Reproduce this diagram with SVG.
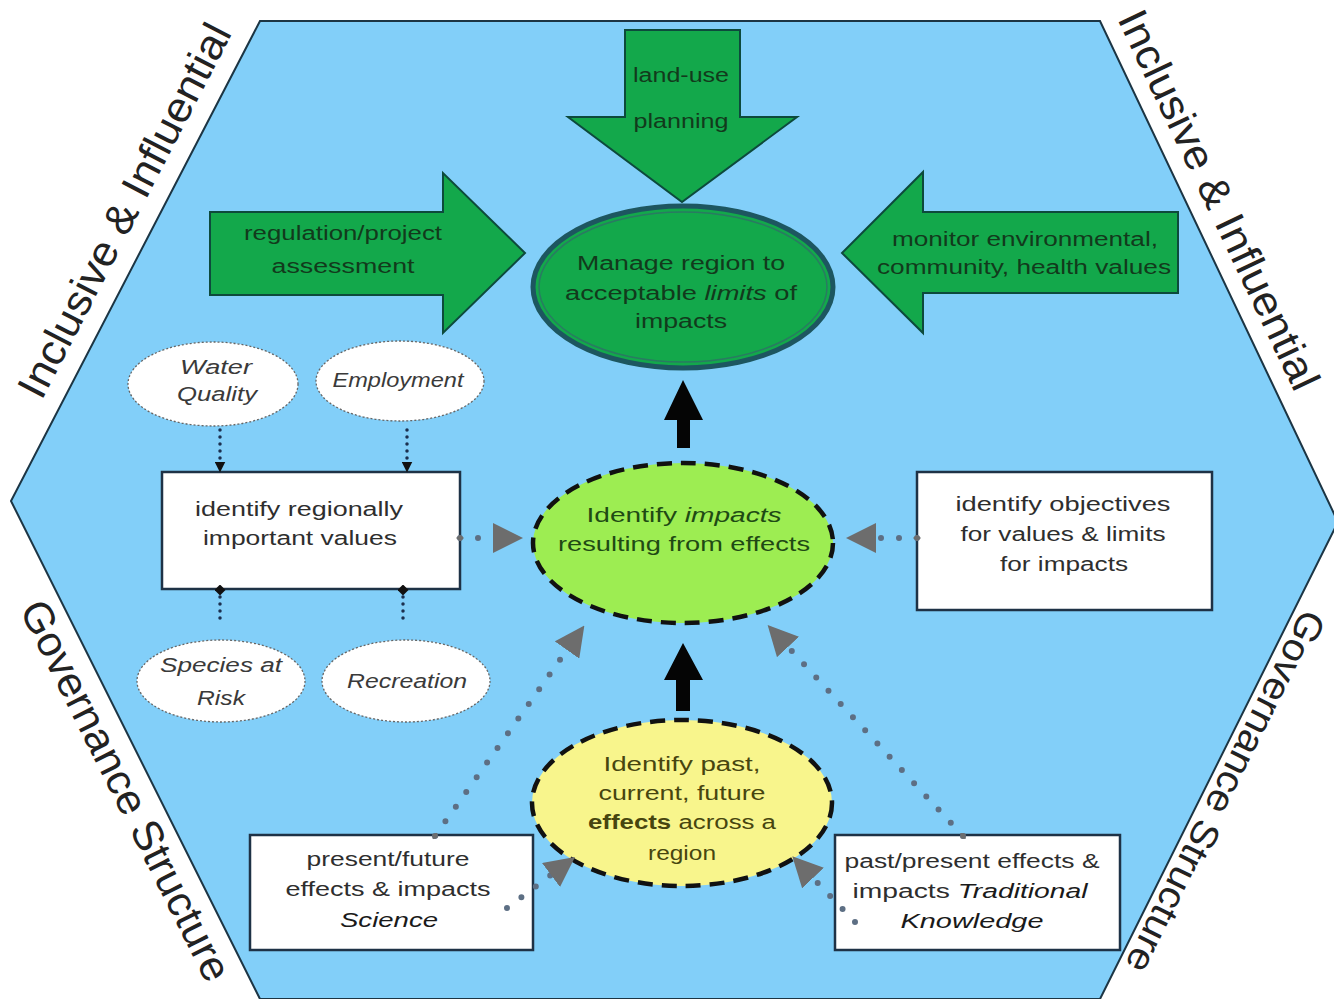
<svg xmlns="http://www.w3.org/2000/svg" width="1334" height="999" viewBox="0 0 1334 999">
<defs>
<style>
text{font-family:"Liberation Sans",Arial,sans-serif;}
.side{font-size:42px;fill:#222;}
.gtxt{font-size:20px;fill:#123a1c;text-anchor:middle;}
.btxt{font-size:20px;fill:#2e2e2e;text-anchor:middle;}
.itxt{font-size:20px;fill:#3a3a3a;text-anchor:middle;font-style:italic;}
.garrow{fill:#13a84b;stroke:#0d4a3c;stroke-width:2;}
.box{fill:#fff;stroke:#1e3246;stroke-width:2.5;}
.small{fill:#fff;stroke:#666;stroke-width:1.3;stroke-dasharray:2 2;}
.dash{stroke:#111;stroke-width:4.5;stroke-dasharray:15 9;}
.gdot{fill:none;stroke:#5d6f84;stroke-width:6;stroke-linecap:round;stroke-dasharray:0 18;}
.ndot{fill:none;stroke:#1b2f4f;stroke-width:3.5;stroke-linecap:round;stroke-dasharray:0 7;}
.black{fill:#050505;}
</style>
<marker id="ghead" viewBox="0 0 30 30" markerUnits="userSpaceOnUse" markerWidth="30" markerHeight="30" refX="0" refY="15" orient="auto">
<path d="M0,0 L30,15 L0,30 Z" fill="#6d6d6d"/>
</marker>
<marker id="gdia" viewBox="0 0 10 10" markerUnits="userSpaceOnUse" markerWidth="8" markerHeight="8" refX="5" refY="5" orient="auto">
<path d="M0,5 L5,1 L10,5 L5,9 Z" fill="#6d6d6d"/>
</marker>
<marker id="nhead" viewBox="0 0 10 10" markerUnits="userSpaceOnUse" markerWidth="11" markerHeight="11" refX="5" refY="5" orient="auto">
<path d="M0,0 L10,5 L0,10 Z" fill="#111"/>
</marker>
<marker id="ndia" viewBox="0 0 10 10" markerUnits="userSpaceOnUse" markerWidth="11" markerHeight="11" refX="5" refY="5" orient="auto">
<path d="M0,5 L5,0 L10,5 L5,10 Z" fill="#111"/>
</marker>
</defs>

<g id="hexagon">
<polygon points="260,21 1100,21 1338,522 1100,999 260,999 11,501" fill="#82cff9" stroke="#1c3544" stroke-width="2"/>
</g>

<g id="side-labels">
<text class="side" text-anchor="middle" textLength="415" lengthAdjust="spacingAndGlyphs" transform="translate(137,217) rotate(-62.6)">Inclusive &amp; Influential</text>
<text class="side" text-anchor="middle" textLength="415" lengthAdjust="spacingAndGlyphs" transform="translate(1206,206) rotate(64.6)">Inclusive &amp; Influential</text>
<text class="side" text-anchor="middle" textLength="420" lengthAdjust="spacingAndGlyphs" transform="translate(113,797) rotate(63.4)">Governance Structure</text>
<text class="side" text-anchor="middle" textLength="400" lengthAdjust="spacingAndGlyphs" style="font-size:38px" transform="translate(1214,786) rotate(116.6)">Governance Structure</text>
</g>

<g id="land-use-planning">
<polygon class="garrow" points="625,30 740,30 740,117 797,117 682,202 568,117 625,117"/>
<text class="gtxt" x="681" y="82" textLength="96" lengthAdjust="spacingAndGlyphs">land-use</text>
<text class="gtxt" x="681" y="128" textLength="95" lengthAdjust="spacingAndGlyphs">planning</text>
</g>

<g id="regulation-assessment">
<polygon class="garrow" points="210,212 443,212 443,173 525,253 443,333 443,295 210,295"/>
<text class="gtxt" x="343" y="240" textLength="198" lengthAdjust="spacingAndGlyphs">regulation/project</text>
<text class="gtxt" x="343" y="273" textLength="143" lengthAdjust="spacingAndGlyphs">assessment</text>
</g>

<g id="monitor-values">
<polygon class="garrow" points="1178,212 923,212 923,172 842,253 923,333 923,293 1178,293"/>
<text class="gtxt" x="1025" y="246" textLength="266" lengthAdjust="spacingAndGlyphs">monitor environmental,</text>
<text class="gtxt" x="1024" y="274" textLength="294" lengthAdjust="spacingAndGlyphs">community, health values</text>
</g>

<g id="manage-region">
<ellipse cx="683" cy="287" rx="150" ry="81" fill="#13a84b" stroke="#1d5660" stroke-width="5"/>
<ellipse cx="683" cy="287" rx="144" ry="75" fill="none" stroke="#2a7a62" stroke-width="1.5"/>
<text class="gtxt" x="681" y="270" textLength="208" lengthAdjust="spacingAndGlyphs">Manage  region  to</text>
<text class="gtxt" x="681" y="300" textLength="232" lengthAdjust="spacingAndGlyphs">acceptable <tspan font-style="italic">limits</tspan> of</text>
<text class="gtxt" x="681" y="328" textLength="92" lengthAdjust="spacingAndGlyphs">impacts</text>
</g>

<g id="identify-impacts">
<ellipse class="dash" cx="683" cy="543" rx="150" ry="80" fill="#9ded52"/>
<text class="gtxt" x="684" y="522" textLength="195" lengthAdjust="spacingAndGlyphs" style="fill:#1f4a14">Identify <tspan font-style="italic">impacts</tspan></text>
<text class="gtxt" x="684" y="551" textLength="252" lengthAdjust="spacingAndGlyphs" style="fill:#1f4a14">resulting from effects</text>
</g>

<g id="identify-effects">
<ellipse class="dash" cx="682" cy="803" rx="150" ry="83" fill="#f8f58c"/>
<text class="gtxt" x="682" y="771" textLength="157" lengthAdjust="spacingAndGlyphs" style="fill:#47450f">Identify past,</text>
<text class="gtxt" x="682" y="800" textLength="167" lengthAdjust="spacingAndGlyphs" style="fill:#47450f">current, future</text>
<text class="gtxt" x="682" y="829" textLength="188" lengthAdjust="spacingAndGlyphs" style="fill:#47450f"><tspan font-weight="bold">effects</tspan> across a</text>
<text class="gtxt" x="682" y="860" textLength="68" lengthAdjust="spacingAndGlyphs" style="fill:#47450f">region</text>
</g>

<g id="regional-values">
<rect class="box" x="162" y="472" width="298" height="117"/>
<text class="btxt" x="299" y="516" textLength="208" lengthAdjust="spacingAndGlyphs">identify regionally</text>
<text class="btxt" x="300" y="545" textLength="194" lengthAdjust="spacingAndGlyphs">important values</text>
</g>

<g id="objectives">
<rect class="box" x="917" y="472" width="295" height="138"/>
<text class="btxt" x="1063" y="511" textLength="215" lengthAdjust="spacingAndGlyphs">identify objectives</text>
<text class="btxt" x="1063" y="541" textLength="205" lengthAdjust="spacingAndGlyphs">for values &amp; limits</text>
<text class="btxt" x="1064" y="571" textLength="128" lengthAdjust="spacingAndGlyphs">for impacts</text>
</g>

<g id="science">
<rect class="box" x="250" y="835" width="283" height="115"/>
<text class="btxt" x="388" y="866" textLength="163" lengthAdjust="spacingAndGlyphs">present/future</text>
<text class="btxt" x="388" y="896" textLength="205" lengthAdjust="spacingAndGlyphs">effects &amp; impacts</text>
<text class="btxt" x="389" y="927" textLength="98" lengthAdjust="spacingAndGlyphs" font-style="italic" style="fill:#1a1a1a">Science</text>
</g>

<g id="traditional-knowledge">
<rect class="box" x="835" y="835" width="285" height="115"/>
<text class="btxt" x="972" y="868" textLength="255" lengthAdjust="spacingAndGlyphs">past/present effects &amp;</text>
<text class="btxt" x="970" y="898" textLength="235" lengthAdjust="spacingAndGlyphs">impacts <tspan font-style="italic" style="fill:#1a1a1a">Traditional</tspan></text>
<text class="btxt" x="972" y="928" textLength="143" lengthAdjust="spacingAndGlyphs" font-style="italic" style="fill:#1a1a1a">Knowledge</text>
</g>

<g id="water-quality">
<ellipse class="small" cx="213" cy="384" rx="85" ry="42"/>
<text class="itxt" x="216" y="374" textLength="72" lengthAdjust="spacingAndGlyphs">Water</text>
<text class="itxt" x="217" y="401" textLength="80" lengthAdjust="spacingAndGlyphs">Quality</text>
</g>

<g id="employment">
<ellipse class="small" cx="400" cy="381" rx="84" ry="40"/>
<text class="itxt" x="398" y="387" textLength="131" lengthAdjust="spacingAndGlyphs">Employment</text>
</g>

<g id="species-at-risk">
<ellipse class="small" cx="221" cy="681" rx="84" ry="41"/>
<text class="itxt" x="221" y="672" textLength="122" lengthAdjust="spacingAndGlyphs">Species at</text>
<text class="itxt" x="221" y="705" textLength="48" lengthAdjust="spacingAndGlyphs">Risk</text>
</g>

<g id="recreation">
<ellipse class="small" cx="406" cy="681" rx="84" ry="41"/>
<text class="itxt" x="407" y="688" textLength="120" lengthAdjust="spacingAndGlyphs">Recreation</text>
</g>

<g id="connectors">
<path class="gdot" d="M460,538 L493,538" marker-start="url(#gdia)" marker-end="url(#ghead)"/>
<path class="gdot" d="M917,538 L876,538" marker-start="url(#gdia)" marker-end="url(#ghead)"/>
<path class="gdot" d="M435,836 L567,650" marker-start="url(#gdia)" marker-end="url(#ghead)"/>
<path class="gdot" d="M963,836 L788,647" marker-start="url(#gdia)" marker-end="url(#ghead)"/>
<path class="gdot" d="M507,908 L551,875" marker-end="url(#ghead)"/>
<path class="gdot" d="M855,922 L813,878" marker-end="url(#ghead)"/>
<path class="ndot" d="M220,430 L220,467" marker-end="url(#nhead)"/>
<path class="ndot" d="M407,430 L407,467" marker-end="url(#nhead)"/>
<path class="ndot" d="M220,590 L220,620" marker-start="url(#ndia)"/>
<path class="ndot" d="M403,590 L403,620" marker-start="url(#ndia)"/>
<polygon class="black" points="677,448 690,448 690,420 703,420 683,380 664,420 677,420"/>
<polygon class="black" points="676,711 690,711 690,680 703,680 683,643 664,680 676,680"/>
</g>
</svg>
